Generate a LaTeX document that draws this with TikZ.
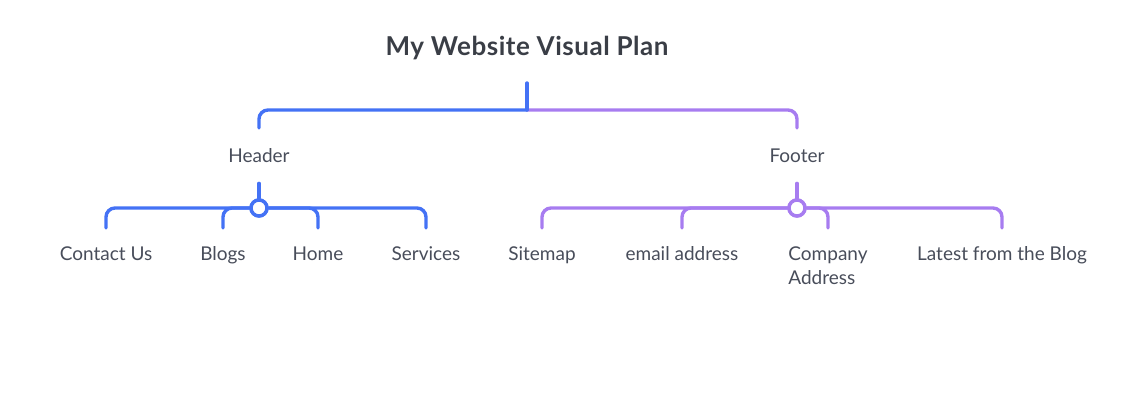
\documentclass[tikz,border=0pt]{standalone}
\usepackage{fontspec}
\setmainfont{Lato}
\usepackage{tikz}
\definecolor{hblue}{RGB}{68,114,245}
\definecolor{fpurple}{RGB}{167,124,240}
\definecolor{txt}{RGB}{72,77,90}
\definecolor{ttl}{RGB}{58,62,70}
\tikzset{
  bluelink/.style={draw=hblue, line width=3.4pt, rounded corners=9pt, line cap=round},
  purplelink/.style={draw=fpurple, line width=3.4pt, rounded corners=9pt, line cap=round},
  hub/.style={circle, line width=3.4pt, fill=white, minimum size=16pt, inner sep=0pt},
  branch/.style={font=\fontsize{19}{24}\selectfont, text=txt, anchor=north,
    text height=14pt, text depth=0pt, inner xsep=0pt, inner ysep=20.5pt},
  leaf/.style={font=\fontsize{19}{24}\selectfont, text=txt, anchor=north,
    text height=14pt, text depth=4pt, inner xsep=0pt, inner ysep=18pt}
}
\begin{document}
\begin{tikzpicture}[x=1pt,y=-1pt]
\useasboundingbox (0,0) rectangle (1135,419);
% title and top bracket
\node[font=\fontsize{26}{30}\selectfont\bfseries\addfontfeature{LetterSpace=2}, text=ttl] (title) at (527,48.5) {My Website Visual Plan};
\coordinate (root) at (527,83);
\coordinate (rootbar) at (527,110);
\node[branch] (header) at (259,128) {Header};
\node[branch] (footer) at (797,128) {Footer};
\draw[purplelink] (rootbar) -| (footer.north);
\draw[bluelink] (rootbar) -| (header.north);
\draw[bluelink, rounded corners=0pt] (root) -- (rootbar);
% header leaves
\node[hub, draw=hblue] (hhub) at (259,208) {};
\node[leaf] (contact) at (106,228) {Contact Us};
\node[leaf] (blogs) at (223,228) {Blogs};
\node[leaf] (home) at (318,228) {Home};
\node[leaf] (services) at (426,228) {Services};
\draw[bluelink] (contact.north) |- (hhub) -| (services.north);
\draw[bluelink] (hhub) -| (blogs.north);
\draw[bluelink] (hhub) -| (home.north);
\draw[bluelink] (header.south) -- (hhub.north);
\node[hub, draw=hblue] at (hhub) {};
% footer leaves
\node[hub, draw=fpurple] (fhub) at (797,208) {};
\node[leaf] (sitemap) at (542,228) {Sitemap};
\node[leaf] (email) at (682,228) {email address};
\node[leaf] (company) at (828,228) {\begin{tabular}[t]{@{}l@{}}Company\\Address\end{tabular}};
\node[leaf] (latest) at (1002,228) {Latest from the Blog};
\draw[purplelink] (sitemap.north) |- (fhub) -| (latest.north);
\draw[purplelink] (fhub) -| (email.north);
\draw[purplelink] (fhub) -| (company.north);
\draw[purplelink] (footer.south) -- (fhub.north);
\node[hub, draw=fpurple] at (fhub) {};
\end{tikzpicture}
\end{document}
